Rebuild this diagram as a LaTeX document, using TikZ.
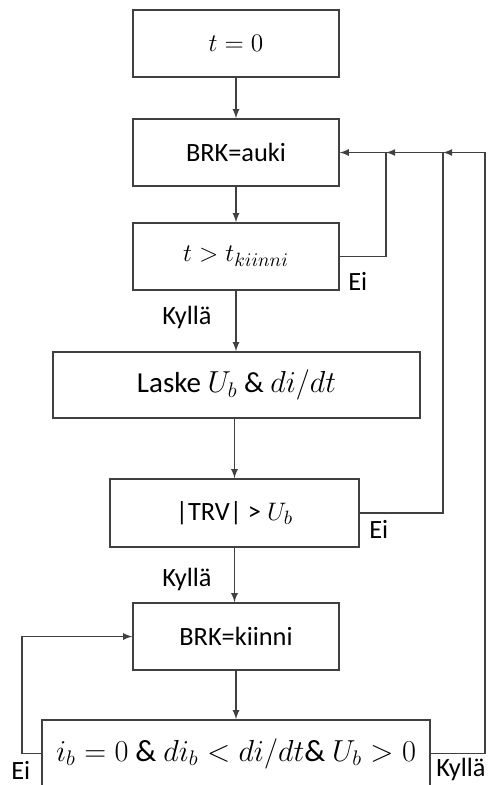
\documentclass[tikz,border=0pt]{standalone}
\usepackage{amsmath}
\usepackage{fontspec}
\setmainfont{Carlito}
\usetikzlibrary{arrows,positioning}

\begin{document}
\begin{tikzpicture}[x=0.02cm,y=-0.02cm,
  box/.style={draw=cln,line width=0.8pt,fill=white,text=black,
    minimum width=4.12cm,minimum height=1.34cm,inner sep=0pt,
    font=\fontsize{15}{18}\selectfont},
  flow/.style={-latex,draw=cln,line width=0.8pt},
  lbl/.style={anchor=base west,inner sep=0pt,text=black,
    font=\fontsize{15}{18}\selectfont}]
%
\useasboundingbox (0,0) rectangle (489,785);
%
\definecolor{cln}{rgb}{0.25,0.25,0.25}
%
\node[box] (t0) at (236,43.5) {$t=0$};
\node[box] (auki) at (236,152.5) {BRK=auki};
\node[box] (tk) at (236,256.5) {$t>t_{\scriptstyle kiinni}$};
\node[box,minimum width=7.34cm,minimum height=1.32cm,
  font=\fontsize{16.5}{19}\selectfont] (laske) at (236.5,385) {Laske $U_b$ \& $di/dt$};
\node[box,minimum width=4.98cm,minimum height=1.36cm] (trv) at (234.5,513) {|TRV| > $U_b$};
\node[box] (kiinni) at (236,636.5) {BRK=kiinni};
\node[box,minimum width=7.76cm,
  font=\fontsize{17.5}{20}\selectfont] (ehto) at (236,753.5) {$i_b=0$ \& $di_b<di/dt$\& $U_b>0$};
%
\coordinate (j1) at (386,152.5);
\coordinate (j2) at (443,152.5);
\coordinate (j3) at (485,152.5);
\coordinate (back) at (22,753.5);
%
\draw[flow] (t0) -- (auki);
\draw[flow] (auki) -- (tk);
\draw[flow] (tk) -- (laske.north -| tk);
\draw[flow] (laske.south -| trv) -- (trv);
\draw[flow] (trv.south) -- (trv.south |- kiinni.north);
\draw[flow] (kiinni.south) -- (kiinni.south |- ehto.north);
%
\draw[flow] (tk.east) -| (j1) -- (auki.east);
\draw[flow] (trv.east) -| (j2) -- (j1);
\draw[flow] (ehto.east) -| (j3) -- (j2);
\draw[flow] (ehto.west) -- (back) |- (kiinni.west);
%
\node[lbl] (ei1) at (348,290) {Ei};
\node[lbl] (ky1) at (162,324) {Kyllä};
\node[lbl] (ei2) at (369,538) {Ei};
\node[lbl] (ky2) at (162,586) {Kyllä};
\node[lbl] (ei3) at (11,779) {Ei};
\node[lbl] (ky3) at (436,776) {Kyllä};
%
\end{tikzpicture}
\end{document}
